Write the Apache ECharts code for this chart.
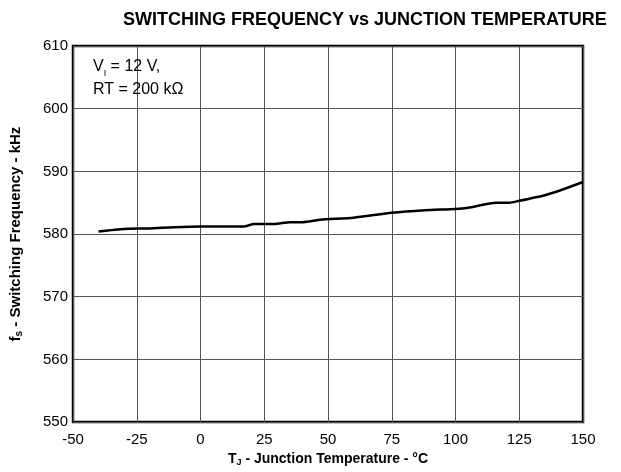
<!DOCTYPE html>
<html>
<head>
<meta charset="utf-8">
<script src="https://cdn.jsdelivr.net/npm/echarts@6/dist/echarts.min.js"></script>
<style>html,body{margin:0;padding:0;background:#fff}#c{width:621px;height:472px}</style>
</head>
<body>
<div id="c"></div>
<script>
const temperature = [-40, -30, -20, -10, 0, 17, 21, 29, 35, 40, 47, 60, 75, 88, 100, 105, 116, 121, 125, 135, 142, 150];
const frequency = [580.4, 580.8, 580.9, 581.1, 581.2, 581.2, 581.6, 581.6, 581.9, 581.9, 582.3, 582.6, 583.4, 583.8, 584.0, 584.2, 585.0, 585.0, 585.3, 586.2, 587.1, 588.3];
const xTicks = [-50, -25, 0, 25, 50, 75, 100, 125, 150];
const yTicks = [550, 560, 570, 580, 590, 600, 610];

const FONT = 'Liberation Sans, Arial, sans-serif';
const chart = echarts.init(document.getElementById('c'), null, {renderer: 'canvas'});
chart.setOption({
  animation: false,
  backgroundColor: '#fff',
  title: {
    text: 'SWITCHING FREQUENCY vs JUNCTION TEMPERATURE',
    left: 118, top: 6,
    textStyle: {fontFamily: FONT, fontWeight: 'bold', fontSize: 18, color: '#000'}
  },
  grid: {left: 71, right: 38, top: 46, bottom: 37, show: true, borderColor: '#000', borderWidth: 2.5, backgroundColor: 'transparent'},
  xAxis: {
    type: 'value', min: xTicks[0], max: xTicks[xTicks.length - 1], interval: 25,
    axisLine: {show: false}, axisTick: {show: false},
    splitLine: {show: true, lineStyle: {color: '#555', width: 1}},
    axisLabel: {fontFamily: FONT, fontSize: 15, color: '#000', margin: 10},
    name: '{b|T}{s|J}{b| - Junction Temperature - °C}',
    nameLocation: 'middle', nameGap: 27,
    nameTextStyle: {rich: {
      b: {fontFamily: FONT, fontWeight: 'bold', fontSize: 14, color: '#000'},
      s: {fontFamily: FONT, fontWeight: 'bold', fontSize: 9, color: '#000', verticalAlign: 'bottom', padding: [7, 0, 0, 0]}
    }}
  },
  yAxis: {
    type: 'value', min: yTicks[0], max: yTicks[yTicks.length - 1], interval: 10,
    axisLine: {show: false}, axisTick: {show: false},
    splitLine: {show: true, lineStyle: {color: '#555', width: 1}},
    axisLabel: {fontFamily: FONT, fontSize: 15, color: '#000', margin: 5},
    name: '{b|f}{s|s}{b| - Switching Frequency - kHz}',
    nameLocation: 'middle', nameGap: 49,
    nameTextStyle: {rich: {
      b: {fontFamily: FONT, fontWeight: 'bold', fontSize: 15, color: '#000'},
      s: {fontFamily: FONT, fontWeight: 'bold', fontSize: 10, color: '#000', verticalAlign: 'bottom', padding: [7, 0, 0, 0]}
    }}
  },
  graphic: [{
    type: 'text', left: 93, top: 59, z: 100,
    style: {
      text: '{n|V}{s|I}{n| = 12 V,}\n{n|RT = 200 kΩ}',
      rich: {
        n: {fontFamily: FONT, fontSize: 16, color: '#000', lineHeight: 23},
        s: {fontFamily: FONT, fontSize: 9, color: '#000', lineHeight: 23, verticalAlign: 'bottom', padding: [8, 0, 0, 0]}
      }
    }
  }],
  series: [{
    type: 'line', data: temperature.map((t, i) => [t, frequency[i]]),
    showSymbol: false, smooth: 0.2,
    lineStyle: {color: '#000', width: 2.5}
  }]
});
</script>
</body>
</html>
